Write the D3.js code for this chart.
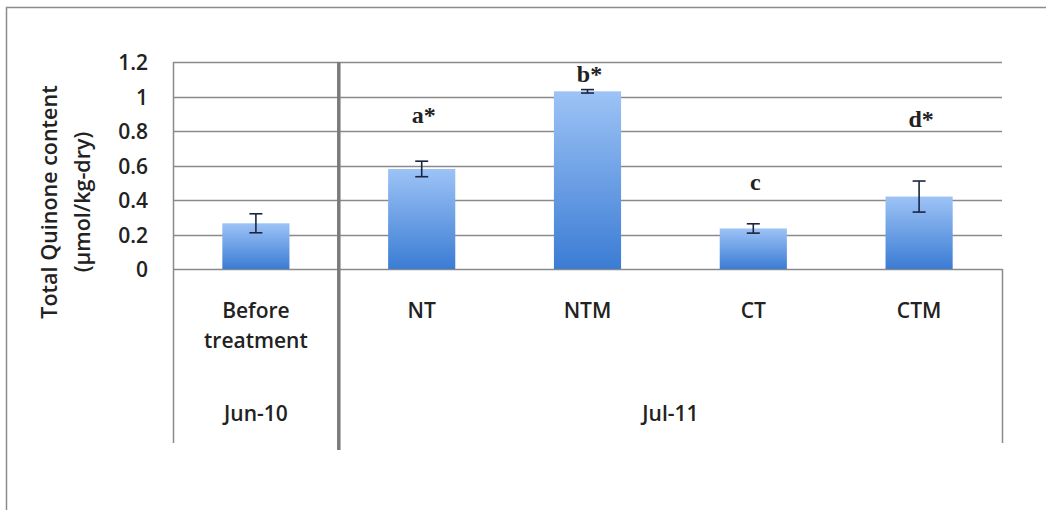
<!DOCTYPE html>
<html>
<head>
<meta charset="utf-8">
<script src="https://cdn.jsdelivr.net/npm/d3@7"></script>
<style>
  html, body { margin: 0; padding: 0; background: #fff; }
  svg { display: block; }
</style>
</head>
<body>
<svg id="chart" width="1046" height="510"></svg>
<script>
// Total quinone content per treatment
const categories = ["Before treatment", "NT", "NTM", "CT", "CTM"];
const values     = [0.265, 0.58, 1.03, 0.235, 0.42];
const errors     = [0.055, 0.045, 0.01, 0.027, 0.09];
// significance letters and the height (in µmol/kg-dry) of their baseline
const letters    = ["", "a*", "b*", "c", "d*"];
const letterY    = [null, 0.845, 1.085, 0.458, 0.823];
// sampling-date groups along the category axis
const groupLabels = ["Jun-10", "Jul-11"];
const groupSizes  = [1, 4];
const yTicks      = [0, 0.2, 0.4, 0.6, 0.8, 1, 1.2];

const svg = d3.select("#chart");
const plot = { left: 173, right: 1002, top: 62, zero: 269, axisBottom: 443 };

const x = d3.scaleBand().domain(categories).range([plot.left, plot.right]).padding(0);
const y = d3.scaleLinear().domain([0, 1.2]).range([plot.zero, plot.top]);
const barW = x.step() * 0.405;

const sans = "'Open Sans', Lato, sans-serif";
const serif = "'Liberation Serif', 'DejaVu Serif', serif";
const textCol = "#222";

// outer chart frame
svg.append("rect")
  .attr("x", 6.5).attr("y", 7.5).attr("width", 1060).attr("height", 520)
  .attr("fill", "none").attr("stroke", "#8c8c8c").attr("stroke-width", 1.5);

// bar gradient
const defs = svg.append("defs");
const grad = defs.append("linearGradient").attr("id", "barFill")
  .attr("x1", 0).attr("y1", 0).attr("x2", 0).attr("y2", 1);
grad.append("stop").attr("offset", "0%").attr("stop-color", "#9dc3f6");
grad.append("stop").attr("offset", "100%").attr("stop-color", "#3b7cd4");
const shadow = defs.append("filter").attr("id", "sepShadow")
  .attr("x", "-200%").attr("y", "-5%").attr("width", "500%").attr("height", "110%");
shadow.append("feGaussianBlur").attr("stdDeviation", 1.2);

// horizontal gridlines
svg.append("g").selectAll("line").data(yTicks).join("line")
  .attr("x1", plot.left).attr("x2", plot.right)
  .attr("y1", d => Math.round(y(d)) + 0.5).attr("y2", d => Math.round(y(d)) + 0.5)
  .attr("stroke", "#8a8a8a").attr("stroke-width", 1.5);

// y axis labels
const yAxis = d3.axisLeft(y).tickValues(yTicks).tickSize(0).tickPadding(0)
  .tickFormat(d => d === 0 || d === 1 ? String(d) : d3.format(".1f")(d));
const gy = svg.append("g").attr("transform", `translate(${plot.left - 25},0)`).call(yAxis);
gy.select(".domain").remove();
gy.selectAll("text")
  .attr("font-family", sans).attr("font-size", 21).attr("font-weight", 600)
  .attr("fill", textCol).attr("dy", "0.36em");

// left axis line and right edge of the category box
svg.append("line").attr("x1", plot.left + 0.5).attr("x2", plot.left + 0.5)
  .attr("y1", plot.top).attr("y2", plot.axisBottom)
  .attr("stroke", "#8a8a8a").attr("stroke-width", 1.5);
svg.append("line").attr("x1", plot.right + 0.5).attr("x2", plot.right + 0.5)
  .attr("y1", plot.zero).attr("y2", plot.axisBottom)
  .attr("stroke", "#8a8a8a").attr("stroke-width", 1.5);

// bars
svg.append("g").selectAll("rect").data(categories).join("rect")
  .attr("x", d => x(d) + (x.step() - barW) / 2)
  .attr("y", (d, i) => y(values[i]))
  .attr("width", barW)
  .attr("height", (d, i) => y(0) - y(values[i]))
  .attr("fill", "url(#barFill)");

// error bars
const eb = svg.append("g").attr("stroke", "#1c2540").attr("stroke-width", 1.6).attr("fill", "none");
categories.forEach((c, i) => {
  const cx = x(c) + x.step() / 2;
  const hi = y(values[i] + errors[i]), lo = y(values[i] - errors[i]);
  eb.append("line").attr("x1", cx).attr("x2", cx).attr("y1", hi).attr("y2", lo);
  eb.append("line").attr("x1", cx - 6.5).attr("x2", cx + 6.5).attr("y1", hi).attr("y2", hi);
  eb.append("line").attr("x1", cx - 6.5).attr("x2", cx + 6.5).attr("y1", lo).attr("y2", lo);
});

// significance letters
svg.append("g").selectAll("text").data(categories.filter((c, i) => letters[i]))
  .join("text")
  .attr("x", d => x(d) + x.step() / 2 + 2)
  .attr("y", d => y(letterY[categories.indexOf(d)]))
  .attr("text-anchor", "middle")
  .attr("font-family", serif).attr("font-size", 24).attr("font-weight", "bold")
  .attr("fill", textCol)
  .text(d => letters[categories.indexOf(d)]);

// category labels (wrapped on spaces)
const cat = svg.append("g").attr("font-family", sans).attr("font-size", 21)
  .attr("font-weight", 600).attr("fill", textCol).attr("text-anchor", "middle");
categories.forEach(c => {
  const words = c.split(" ");
  const t = cat.append("text").attr("x", x(c) + x.step() / 2).attr("y", 318);
  words.forEach((w, k) => t.append("tspan").attr("x", x(c) + x.step() / 2)
    .attr("dy", k === 0 ? 0 : 30).text(w));
});

// group labels and the separator between sampling dates
let start = 0;
groupLabels.forEach((g, gi) => {
  const first = categories[start];
  const last = categories[start + groupSizes[gi] - 1];
  const x0 = x(first), x1 = x(last) + x.step();
  cat.append("text").attr("x", (x0 + x1) / 2).attr("y", 421).text(g);
  if (gi > 0) {
    svg.append("line").attr("x1", x0 + 1.5).attr("x2", x0 + 1.5)
      .attr("y1", plot.top).attr("y2", 451)
      .attr("stroke", "#b0b0b0").attr("stroke-width", 5).attr("filter", "url(#sepShadow)");
    svg.append("line").attr("x1", x0).attr("x2", x0)
      .attr("y1", plot.top).attr("y2", 450)
      .attr("stroke", "#7a7a7a").attr("stroke-width", 3.5);
  }
  start += groupSizes[gi];
});

// y axis title
const title = svg.append("text")
  .attr("transform", "translate(0,202) rotate(-90)")
  .attr("font-family", sans).attr("font-size", 21.5).attr("font-weight", 600)
  .attr("fill", textCol).attr("text-anchor", "middle");
title.append("tspan").attr("x", 0).attr("y", 57).text("Total Quinone content");
title.append("tspan").attr("x", 0).attr("y", 90).text("(µmol/kg-dry)");
</script>
</body>
</html>
